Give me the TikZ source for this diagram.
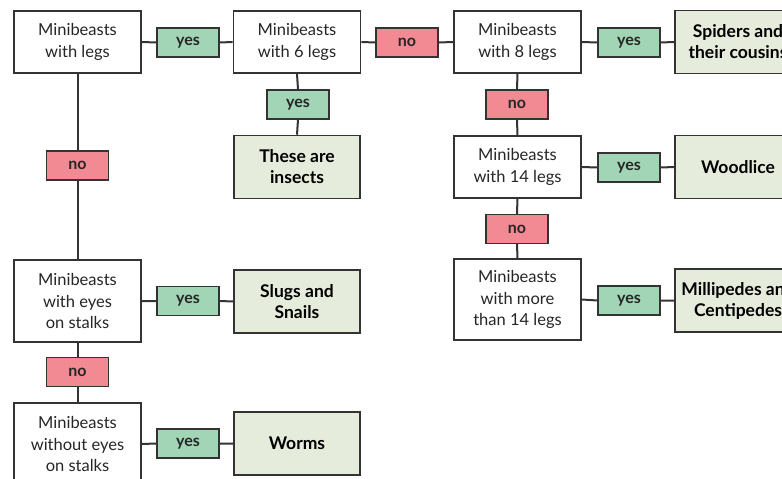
\documentclass[tikz,border=0pt]{standalone}
\usepackage{fontspec}
\setmainfont{Lato}
\definecolor{yesgreen}{HTML}{A2D5B5}
\definecolor{nopink}{HTML}{F28A94}
\definecolor{resultfill}{HTML}{E6ECDB}
\definecolor{edgegrey}{HTML}{333333}
\tikzset{
  question/.style={draw=edgegrey, line width=1.6pt, fill=white, align=center, inner sep=0pt,
    minimum width=127pt, minimum height=62pt, text=black!85, font=\fontsize{16.5}{21.5}\selectfont},
  result/.style={draw=edgegrey, line width=1.6pt, fill=resultfill, align=center, inner sep=0pt,
    minimum width=126pt, minimum height=63pt, font=\fontsize{17.5}{21}\selectfont\bfseries},
  yestag/.style={draw=edgegrey, line width=1.4pt, fill=yesgreen, inner sep=0pt,
    minimum width=62pt, minimum height=29pt, text=black!85, font=\fontsize{16}{18}\selectfont\bfseries},
  notag/.style={yestag, fill=nopink},
  link/.style={draw=edgegrey, line width=2pt}
}

\begin{document}
\begin{tikzpicture}[x=1pt, y=-1pt]
  \useasboundingbox (0,0) rectangle (782,479);
  \clip (0,0) rectangle (782,479);
  % questions
  \node[question] (legs) at (77.5,42) {Minibeasts\\with legs};
  \node[question] (six) at (297,42) {Minibeasts\\with 6 legs};
  \node[question] (eight) at (517.5,42) {Minibeasts\\with 8 legs};
  \node[question] (fourteen) at (517.5,167) {Minibeasts\\with 14 legs};
  \node[question, minimum height=81pt] (more) at (517.5,299.5) {Minibeasts\\with more\\than 14 legs};
  \node[question, minimum height=82pt] (stalks) at (77.5,301) {Minibeasts\\with eyes\\on stalks};
  \node[question, minimum height=82pt] (nostalks) at (77.5,444) {Minibeasts\\without eyes\\on stalks};
  % answers
  \node[result] (insects) at (297,167) {These are\\insects};
  \node[result] (spiders) at (738,42) {Spiders and\\their cousins};
  \node[result] (woodlice) at (738,167) {Woodlice};
  \node[result] (millipedes) at (738,300.5) {Millipedes and\\Centipedes};
  \node[result] (slugs) at (297,301.5) {Slugs and\\Snails};
  \node[result] (worms) at (297,443.5) {Worms};
  % yes / no tags
  \node[yestag] (y1) at (188,42.5) {yes};
  \node[yestag] (y2) at (298,104.5) {yes};
  \node[yestag] (y3) at (629,42.5) {yes};
  \node[yestag] (y4) at (629,167.5) {yes};
  \node[yestag] (y5) at (629,300.5) {yes};
  \node[yestag] (y6) at (188,301) {yes};
  \node[yestag] (y7) at (188,443.5) {yes};
  \node[notag] (n1) at (77.5,165.5) {no};
  \node[notag] (n2) at (407,42.5) {no};
  \node[notag] (n3) at (517,104.5) {no};
  \node[notag] (n4) at (517,229) {no};
  \node[notag] (n5) at (77.5,372) {no};
  % links
  \draw[link] (legs.east) -- (y1.west) (y1.east) -- (six.west);
  \draw[link] (six.east) -- (n2.west) (n2.east) -- (eight.west);
  \draw[link] (eight.east) -- (y3.west) (y3.east) -- (spiders.west);
  \draw[link] (six.south) -- (y2.north) (y2.south) -- (insects.north);
  \draw[link] (eight.south) -- (n3.north) (n3.south) -- (fourteen.north);
  \draw[link] (fourteen.east) -- (y4.west) (y4.east) -- (woodlice.west);
  \draw[link] (fourteen.south) -- (n4.north) (n4.south) -- (more.north);
  \draw[link] (more.east) -- (y5.west) (y5.east) -- (millipedes.west);
  \draw[link] (legs.south) -- (n1.north) (n1.south) -- (stalks.north);
  \draw[link] (stalks.east) -- (y6.west) (y6.east) -- (slugs.west);
  \draw[link] (stalks.south) -- (n5.north) (n5.south) -- (nostalks.north);
  \draw[link] (nostalks.east) -- (y7.west) (y7.east) -- (worms.west);
\end{tikzpicture}
\end{document}
